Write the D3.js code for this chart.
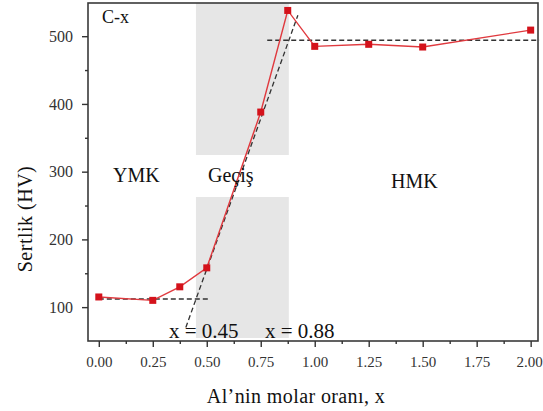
<!DOCTYPE html>
<html>
<head>
<meta charset="utf-8">
<script src="https://cdn.jsdelivr.net/npm/d3@7"></script>
<style>
  html, body { margin: 0; padding: 0; background: #fff; }
  svg { display: block; }
</style>
</head>
<body>
<svg id="chart" width="543" height="411"></svg>
<script>
// Hardness (HV) against Al molar ratio x
const alRatio  = [0.00, 0.25, 0.375, 0.50, 0.75, 0.875, 1.00, 1.25, 1.50, 2.00];
const hardness = [115, 110, 130, 158, 388, 538, 485, 488, 484, 509];

// Guide lines (dashed) bounding the transition
const lowFit   = [[0.00, 112], [0.51, 112]];
const highFit  = [[0.78, 494], [2.04, 494]];
const slopeFit = [[0.403, 70], [0.922, 531]];

// Transition band edges
const bandX = [0.45, 0.88];

const xTicks = [0, 0.25, 0.5, 0.75, 1.0, 1.25, 1.5, 1.75, 2.0];
const xMinor = [0.125, 0.375, 0.625, 0.875, 1.125, 1.375, 1.625, 1.875];
const yTicks = [100, 200, 300, 400, 500];
const yMinor = [150, 250, 350, 450];

const L = 88, T = 3, R = 538, B = 341;
const svg = d3.select("#chart");

const x = d3.scaleLinear().domain([-0.05, 2.034]).range([L, R]);
const y = d3.scaleLinear().domain([50, 549]).range([B, T]);

const serif = "'Liberation Serif', 'Times New Roman', serif";

// Shaded transition band, split around the "Geçiş" label
const band = svg.append("g").attr("fill", "#e6e6e6");
band.append("rect")
  .attr("x", x(bandX[0])).attr("width", x(bandX[1]) - x(bandX[0]))
  .attr("y", T).attr("height", 155 - T);
band.append("rect")
  .attr("x", x(bandX[0])).attr("width", x(bandX[1]) - x(bandX[0]))
  .attr("y", 197).attr("height", B - 3 - 197);

// Dashed guides
const line = d3.line().x(d => x(d[0])).y(d => y(d[1]));
svg.append("g")
  .selectAll("path").data([lowFit, highFit, slopeFit]).join("path")
  .attr("d", line)
  .attr("fill", "none")
  .attr("stroke", "#333")
  .attr("stroke-width", 1.3)
  .attr("stroke-dasharray", "5,3");

// Measured series
const pts = alRatio.map((v, i) => [v, hardness[i]]);
svg.append("path")
  .datum(pts)
  .attr("d", line)
  .attr("fill", "none")
  .attr("stroke", "#e0393e")
  .attr("stroke-width", 1.4);
svg.append("g")
  .selectAll("rect").data(pts).join("rect")
  .attr("x", d => x(d[0]) - 3.5)
  .attr("y", d => y(d[1]) - 3.5)
  .attr("width", 7).attr("height", 7)
  .attr("fill", "#d4121b");

// Frame
svg.append("rect")
  .attr("x", L).attr("y", T).attr("width", R - L).attr("height", B - T)
  .attr("fill", "none").attr("stroke", "#3a3a3a").attr("stroke-width", 1.6);

// Axes
const xAxisG = svg.append("g").attr("transform", `translate(0,${B})`)
  .call(d3.axisBottom(x).tickValues(xTicks).tickSize(6).tickPadding(9)
    .tickFormat(d3.format(".2f")));
svg.append("g").attr("transform", `translate(0,${B})`)
  .call(d3.axisBottom(x).tickValues(xMinor).tickSize(3).tickFormat(""));
const yAxisG = svg.append("g").attr("transform", `translate(${L},0)`)
  .call(d3.axisLeft(y).tickValues(yTicks).tickSize(6).tickPadding(9));
svg.append("g").attr("transform", `translate(${L},0)`)
  .call(d3.axisLeft(y).tickValues(yMinor).tickSize(3).tickFormat(""));

svg.selectAll(".domain").remove();
svg.selectAll(".tick line").attr("stroke", "#333").attr("stroke-width", 1.4);
yAxisG.selectAll(".tick text")
  .attr("font-family", serif).attr("font-size", 16).attr("fill", "#333");
xAxisG.selectAll(".tick text")
  .attr("font-family", serif).attr("font-size", 15).attr("fill", "#333")
  .attr("dx", (d, i, n) => i === n.length - 1 ? -1.5 : 0);

// Axis titles
svg.append("text")
  .attr("x", 296).attr("y", 403)
  .attr("text-anchor", "middle")
  .attr("font-family", serif).attr("font-size", 20).attr("fill", "#111")
  .attr("letter-spacing", 0.4)
  .text("Al’nin molar oranı, x");
svg.append("text")
  .attr("transform", "translate(32,219) rotate(-90)")
  .attr("text-anchor", "middle")
  .attr("font-family", serif).attr("font-size", 20).attr("fill", "#111")
  .attr("letter-spacing", 0.5)
  .text("Sertlik (HV)");

// Annotations
const ann = [
  { t: "C-x", x: 102, y: 23, s: 18 },
  { t: "YMK", x: 113, y: 182, s: 20 },
  { t: "Geçiş", x: 208, y: 182, s: 20 },
  { t: "HMK", x: 391, y: 188, s: 20 },
  { t: "x = 0.45", x: 169, y: 338, s: 21 },
  { t: "x = 0.88", x: 265, y: 338, s: 21 }
];
svg.append("g").selectAll("text").data(ann).join("text")
  .attr("x", d => d.x).attr("y", d => d.y)
  .attr("font-family", serif).attr("font-size", d => d.s).attr("fill", "#111")
  .text(d => d.t);
</script>
</body>
</html>
